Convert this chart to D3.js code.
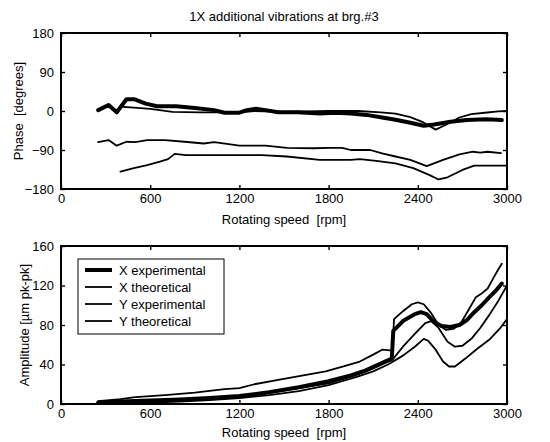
<!DOCTYPE html>
<html>
<head>
<meta charset="utf-8">
<script src="https://cdn.jsdelivr.net/npm/d3@7"></script>
<style>
  html, body { margin: 0; padding: 0; background: #fff; }
  svg { display: block; font-family: "Liberation Sans", Arial, sans-serif; }
  text { white-space: pre; }
</style>
</head>
<body>
<svg id="chart" width="550" height="442"></svg>
<script>
// ---------- DATA ----------
const title = "1X additional vibrations at brg.#3";
const xLabel = "Rotating speed  [rpm]";
const phaseLabel = "Phase  [degrees]";
const ampLabel = "Amplitude [\u00b5m pk-pk]";
const seriesNames = ["X experimental", "X theoretical", "Y experimental", "Y theoretical"];
const rpmTicks = [0, 600, 1200, 1800, 2400, 3000];
const phaseTicks = [-180, -90, 0, 90, 180];
const ampTicks = [0, 40, 80, 120, 160];

// Phase [deg] vs rpm
const xExpPhase = [[250,2],[320,14],[375,-3],[440,27],[495,27],[570,17],[645,11],[775,11],[900,7],[1030,2],[1100,-4],[1200,-4],[1250,2],[1311,5],[1375,2],[1460,-3],[1590,-3],[1740,-6],[1845,-4],[1950,-6],[2055,-9],[2160,-15],[2250,-20],[2350,-27],[2440,-34],[2510,-31],[2620,-25],[2730,-21],[2860,-19],[2965,-21]];
const xTheoPhase = [[400,10],[600,5],[750,-2],[935,-3],[1200,-3],[1300,0],[1500,-2],[1800,0],[2000,0],[2150,-3],[2250,-6],[2350,-14],[2430,-25],[2520,-43],[2600,-30],[2680,-15],[2760,-7],[2850,-4],[2940,-1],[3000,0]];
const yExpPhase = [[250,-72],[320,-67],[375,-80],[440,-71],[500,-72],[580,-67],[700,-67],[830,-71],[960,-75],[1030,-72],[1140,-77],[1200,-80],[1375,-80],[1440,-82],[1520,-85],[1700,-86],[1800,-85],[1890,-85],[1950,-90],[2080,-90],[2160,-98],[2250,-105],[2350,-113],[2460,-127],[2570,-113],[2680,-100],[2770,-94],[2820,-96],[2870,-94],[2960,-97]];
const yTheoPhase = [[400,-140],[490,-132],[580,-125],[665,-117],[720,-111],[765,-99],[840,-102],[1350,-102],[1520,-105],[1740,-113],[1950,-113],[2010,-111],[2120,-115],[2250,-121],[2370,-132],[2480,-148],[2540,-158],[2600,-153],[2700,-136],[2780,-126],[3000,-126]];

// Amplitude [um pk-pk] vs rpm
const xExpAmp = [[250,1.5],[400,2.5],[600,3.5],[800,4.5],[1000,6],[1200,8],[1400,12],[1600,17],[1800,23],[1950,29],[2050,34],[2150,41],[2225,46],[2235,74],[2300,84],[2380,91],[2420,93],[2460,91],[2510,83],[2560,79],[2620,78],[2680,80],[2730,85],[2780,93],[2830,100],[2880,108],[2920,114],[2965,122]];
const xTheoAmp = [[400,1],[600,2],[800,3.5],[1000,5],[1200,7.5],[1400,11],[1600,16],[1800,21],[2000,30],[2100,36],[2230,45],[2300,58],[2380,71],[2450,82],[2490,84],[2540,77],[2600,63],[2650,58],[2700,59],[2760,66],[2820,77],[2880,90],[2940,104],[3000,120]];
const yExpAmp = [[250,3],[400,5],[500,7],[700,9],[900,11.5],[1100,15],[1200,16],[1300,20],[1480,25],[1630,29],[1780,33],[1900,38],[2010,43],[2100,50],[2160,55],[2230,54],[2240,86],[2300,94],[2360,101],[2400,103],[2440,101],[2490,92],[2540,80],[2590,75],[2640,76],[2690,82],[2740,95],[2790,108],[2830,112],[2870,117],[2910,128],[2940,136],[2965,142]];
const yTheoAmp = [[400,0.5],[600,1.5],[800,2.5],[1000,4],[1200,6],[1400,9],[1600,13],[1800,19],[2000,28],[2100,33],[2200,40],[2300,49],[2380,58],[2440,66],[2470,64],[2520,55],[2570,43],[2610,38],[2650,38],[2720,46],[2800,56],[2880,65],[2950,76],[3000,86]];

// ---------- DRAW ----------
const svg = d3.select("#chart");
const W = { left: 61, right: 507 };
const FONT = 13;
const widths = [4, 1.8, 1.8, 1.8];

function panel(top, bottom, yDomain, yTicks, yLabelText, yLabelX, xLabelY, series, withLegend) {
  const x = d3.scaleLinear().domain([0, 3000]).range([W.left, W.right]);
  const y = d3.scaleLinear().domain(yDomain).range([bottom, top]);
  const g = svg.append("g");

  const clipId = "clip" + top;
  svg.append("clipPath").attr("id", clipId).append("rect")
    .attr("x", W.left).attr("y", top).attr("width", W.right - W.left).attr("height", bottom - top);

  const line = d3.line().x(d => x(d[0])).y(d => y(d[1]));
  const lg = g.append("g").attr("clip-path", `url(#${clipId})`);
  series.forEach((s, i) => {
    lg.append("path").datum(s).attr("d", line)
      .attr("fill", "none").attr("stroke", "#000")
      .attr("stroke-width", widths[i]).attr("stroke-linejoin", "round").attr("stroke-linecap", "round");
  });

  const tl = 4;
  const axB = d3.axisBottom(x).tickValues(rpmTicks).tickSize(-tl).tickPadding(5).tickFormat(d3.format("d"));
  const axT = d3.axisTop(x).tickValues(rpmTicks).tickSize(-tl).tickFormat("");
  const axL = d3.axisLeft(y).tickValues(yTicks).tickSize(-tl).tickPadding(7).tickFormat(d3.format("d"));
  const axR = d3.axisRight(y).tickValues(yTicks).tickSize(-tl).tickFormat("");
  const styleAx = sel => {
    sel.select(".domain").remove();
    sel.selectAll(".tick line").attr("stroke", "#000").attr("stroke-width", 1.4);
    sel.selectAll(".tick text").attr("fill", "#000").style("font-size", FONT + "px").style("font-family", "Liberation Sans, Arial, sans-serif");
  };
  g.append("g").attr("transform", `translate(0,${bottom})`).call(axB).call(styleAx);
  g.append("g").attr("transform", `translate(0,${top})`).call(axT).call(styleAx);
  g.append("g").attr("transform", `translate(${W.left},0)`).call(axL).call(styleAx);
  g.append("g").attr("transform", `translate(${W.right},0)`).call(axR).call(styleAx);

  g.append("rect").attr("x", W.left).attr("y", top).attr("width", W.right - W.left).attr("height", bottom - top)
    .attr("fill", "none").attr("stroke", "#000").attr("stroke-width", 2);

  g.append("text").attr("x", (W.left + W.right) / 2).attr("y", xLabelY)
    .attr("text-anchor", "middle").style("font-size", FONT + "px").text(xLabel);
  g.append("text").attr("transform", `translate(${yLabelX},${(top + bottom) / 2}) rotate(-90)`)
    .attr("text-anchor", "middle").attr("dy", "0.35em").style("font-size", FONT + "px").text(yLabelText);

  if (withLegend) {
    const lx = 78, ly = 259, lw = 146, lh = 75;
    const leg = g.append("g");
    leg.append("rect").attr("x", lx).attr("y", ly).attr("width", lw).attr("height", lh)
      .attr("fill", "#fff").attr("stroke", "#000").attr("stroke-width", 1);
    seriesNames.forEach((n, i) => {
      const yy = ly + 11 + i * 17;
      leg.append("line").attr("x1", lx + 7).attr("x2", lx + 34).attr("y1", yy).attr("y2", yy)
        .attr("stroke", "#000").attr("stroke-width", widths[i]);
      leg.append("text").attr("x", lx + 41).attr("y", yy).attr("dy", "0.35em")
        .style("font-size", FONT + "px").text(n);
    });
  }
}

svg.append("text").attr("x", (W.left + W.right) / 2).attr("y", 21)
  .attr("text-anchor", "middle").style("font-size", FONT + "px").text(title);

panel(33, 189, [-180, 180], phaseTicks, phaseLabel, 18, 224,
  [xExpPhase, xTheoPhase, yExpPhase, yTheoPhase], false);
panel(246, 404, [0, 160], ampTicks, ampLabel, 24, 437,
  [xExpAmp, xTheoAmp, yExpAmp, yTheoAmp], true);
</script>
</body>
</html>
